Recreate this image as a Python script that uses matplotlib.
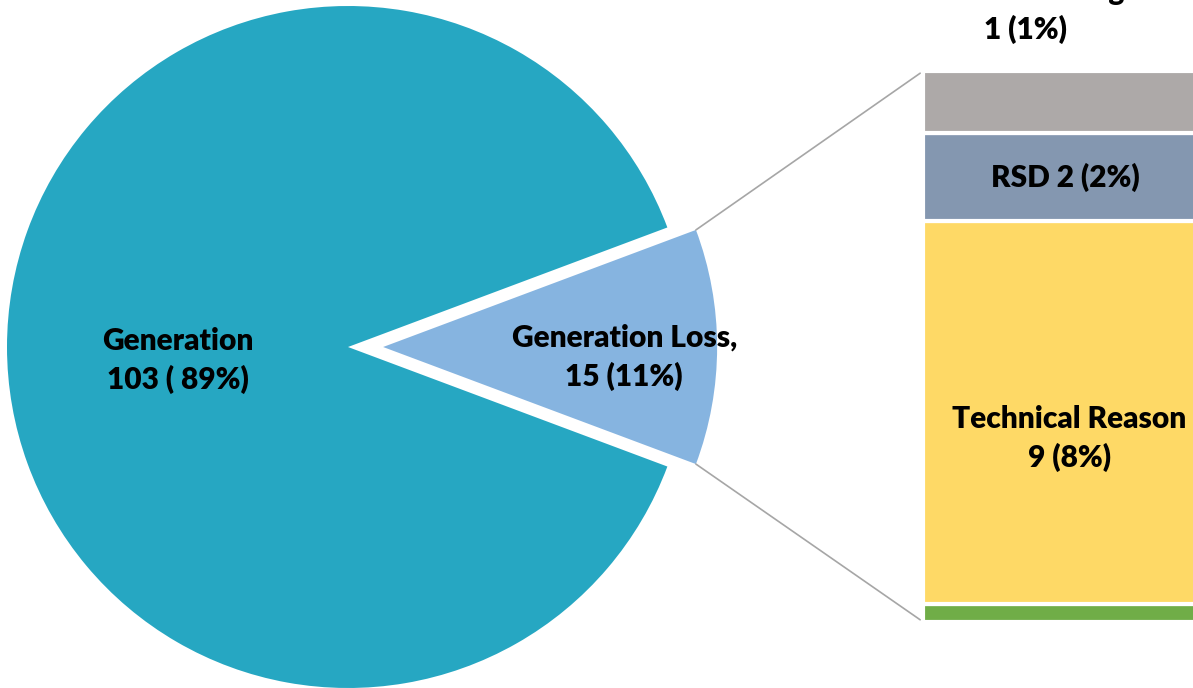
import numpy as np
import matplotlib
matplotlib.use("Agg")
import matplotlib.pyplot as plt
from matplotlib.patches import ConnectionPatch

pie_labels = ["Generation Loss,\n15 (11%)", "Generation\n103 ( 89%)"]
pie_share = [11.4, 88.6]
pie_colors = ["#86B4E0", "#26A7C2"]

# bar: breakdown of the loss, bottom to top (segment heights)
bar_labels = ["", "Technical Reason\n9 (8%)", "RSD 2 (2%)", "Load Shedding\n1 (1%)"]
bar_share = [3.3, 69.4, 16.1, 11.2]
bar_colors = ["#70AD47", "#FED966", "#8497B0", "#ADA9A8"]

W, H = 1193, 688
plt.rcParams['font.family'] = ['Lato', 'DejaVu Sans']
fig = plt.figure(figsize=(W / 100, H / 100), dpi=100)

# pie axes, one data unit = 341 px
R = 341
cx, cy = 348, H - 347
ax_pie = fig.add_axes([(cx - R) / W, (cy - R) / H, 2 * R / W, 2 * R / H])
half = pie_share[0] / 100 * 360 / 2
wedges, _ = ax_pie.pie(pie_share, startangle=-half, explode=[0.103, 0],
                       colors=pie_colors, radius=1, counterclock=True,
                       wedgeprops=dict(linewidth=0))
wedges[0].set_radius(334 / 341)
ax_pie.set_xlim(-1, 1)
ax_pie.set_ylim(-1, 1)
ax_pie.set_aspect('equal')
ax_pie.axis('off')

txt = dict(fontsize=21.5, fontweight='heavy', color='black', ha='center',
           va='center', linespacing=1.42)
ax_pie.text(-0.5, -0.04, pie_labels[1], **txt)
ax_pie.text(0.81, -0.03, pie_labels[0], **txt)

# stacked bar (white edges give the gaps between segments)
bx0, bx1, by0, by1 = 923, 1207, H - 622, H - 71
ax_bar = fig.add_axes([bx0 / W, by0 / H, (bx1 - bx0) / W, (by1 - by0) / H])
bottom = 0
for val, col in zip(bar_share, bar_colors):
    ax_bar.bar(0, val, width=1, bottom=bottom, color=col, edgecolor='white',
               linewidth=3)
    bottom += val
ax_bar.set_xlim(-0.5, 0.5)
ax_bar.set_ylim(0, sum(bar_share))
ax_bar.axis('off')

cum = np.cumsum(bar_share)
ax_bar.text(0.015, 33.3, bar_labels[1], **txt)
ax_bar.text(0.0, cum[1] + bar_share[2] / 2, bar_labels[2], **txt)
ax_bar.text(-0.14, 111.0, bar_labels[3], clip_on=False, **txt)

# connector lines from the loss wedge to the bar
w = wedges[0]
x0, y0 = w.center
for ang, yb in [(w.theta2, 1.0), (w.theta1, 0.0)]:
    xa = x0 + w.r * np.cos(np.radians(ang))
    ya = y0 + w.r * np.sin(np.radians(ang))
    con = ConnectionPatch(xyA=(xa, ya), coordsA=ax_pie.transData,
                          xyB=(-0.01, 1.0 - 0.004 if yb else 0.004),
                          coordsB=ax_bar.transAxes,
                          color='#A6A6A6', linewidth=1.2)
    fig.add_artist(con)

fig.savefig("out.png", dpi=100)
